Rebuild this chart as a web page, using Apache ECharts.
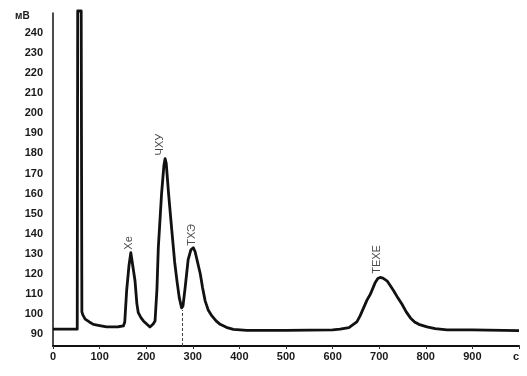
<!DOCTYPE html>
<html>
<head>
<meta charset="utf-8">
<script src="https://cdn.jsdelivr.net/npm/echarts@6/dist/echarts.min.js"></script>
<style>
    html, body { margin: 0; padding: 0; background: #fff; }
    .chart-box { width: 527px; height: 376px; }
</style>
</head>
<body>
<div class="chart-box"></div>
<script>
// retention time, s
var times = [0, 52, 52.5, 53, 60.5, 62, 64, 69, 78, 86.6, 100, 115, 140, 151, 154, 158, 163, 167, 169, 171, 176, 180, 183, 189, 194, 201, 208, 215, 219, 223, 226, 233, 238, 240.5, 243, 248, 255, 261, 266, 271, 276, 279, 283.5, 290, 296, 301, 305, 310, 316, 321, 326.5, 333, 341, 350, 358.7, 372, 387, 416, 500, 600, 616, 635, 652, 659, 666.5, 674, 681, 691.6, 697, 702, 708, 716.7, 724, 731, 740, 749, 758, 767, 776, 785, 802.6, 820, 845.6, 900, 1000];
// detector signal, mV
var signal = [92.4, 92.4, 92.4, 251, 251, 101, 99.5, 97.4, 96, 94.8, 94.2, 93.5, 93.6, 94, 96, 111.5, 124, 130.5, 131.4, 130, 116.5, 105, 100.6, 98, 96.5, 95, 93.5, 95, 96.5, 112, 133, 160, 174, 177.4, 175, 160, 141.5, 126, 116.5, 108, 103, 104, 113, 127, 132, 133, 131, 126, 120, 113, 106.5, 102, 99, 96.5, 94.8, 93.3, 92.3, 91.8, 91.8, 92, 92.4, 93.2, 96, 99, 103, 107, 109.8, 115.7, 117.6, 118.2, 117.8, 116.5, 114, 111.5, 108, 104.8, 101, 98, 96, 94.8, 93.5, 92.7, 92, 92, 91.7];

var peakNames = ['Хе', 'ЧХУ', 'ТХЭ', 'ТЕХЕ'];
var peakX = [162, 230, 298, 695];
var peakY = [132, 179, 134, 120];

var yTickLabels = [90, 100, 110, 120, 130, 140, 150, 160, 170, 180, 190, 200, 210, 220, 230, 240];
var xTickLabels = ['0', '100', '200', '300', '400', '500', '600', '700', '800', '900', 'c'];

var splitTime = 278;
var splitTop = 102;

var chart = echarts.init(document.querySelector('.chart-box'));
var font = { fontFamily: 'Liberation Sans', fontWeight: 'bold', fontSize: 11, color: '#1a1a1a' };

var option = {
    animation: false,
    grid: { left: 53, right: 8, top: 13, bottom: 30 },
    graphic: [
        { type: 'text', left: 15, top: 11, style: { text: 'мВ', font: 'bold 10px "Liberation Sans"', fill: '#1a1a1a' } }
    ],
    xAxis: {
        type: 'value',
        min: 0,
        max: 1000,
        interval: 100,
        axisLine: { lineStyle: { color: '#111', width: 2 } },
        axisTick: { show: true, length: 3, lineStyle: { color: '#333' } },
        splitLine: { show: false },
        axisLabel: Object.assign({
            margin: 5,
            alignMaxLabel: 'right',
            formatter: function (v) { return xTickLabels[Math.round(v / 100)]; }
        }, font)
    },
    yAxis: {
        type: 'value',
        min: 84,
        max: 250,
        interval: 2,
        axisLine: { show: true, lineStyle: { color: '#111', width: 1.5 } },
        axisTick: { show: false },
        splitLine: { show: false },
        axisLabel: Object.assign({
            margin: 10,
            formatter: function (v) { return yTickLabels.indexOf(v) >= 0 ? String(v) : ''; }
        }, font)
    },
    series: [
        {
            type: 'line',
            data: times.map(function (t, i) { return [t, signal[i]]; }),
            symbol: 'none',
            clip: false,
            lineStyle: { color: '#111', width: 2.8, join: 'round' },
            markLine: {
                silent: true,
                symbol: 'none',
                label: { show: false },
                lineStyle: { type: [3, 2], color: '#444', width: 1 },
                data: [[{ coord: [splitTime, 84] }, { coord: [splitTime, splitTop] }]]
            }
        },
        {
            type: 'scatter',
            symbolSize: 0,
            data: peakX.map(function (x, i) { return [x, peakY[i], peakNames[i]]; }),
            label: {
                show: true,
                position: 'inside',
                rotate: 90,
                align: 'left',
                verticalAlign: 'middle',
                fontFamily: 'Liberation Sans',
                fontSize: 11,
                color: '#1a1a1a',
                formatter: function (p) { return p.value[2]; }
            }
        }
    ]
};
chart.setOption(option);
</script>
</body>
</html>
